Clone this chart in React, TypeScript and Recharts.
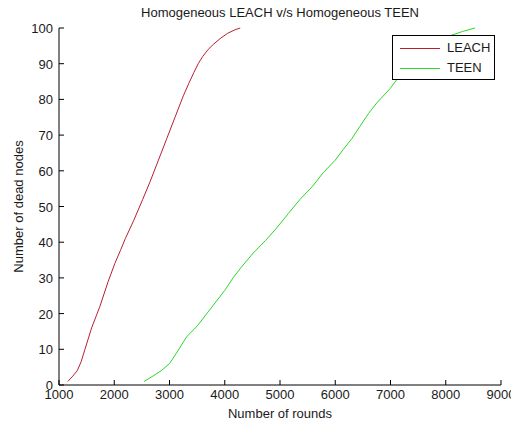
import React from 'react';
import { LineChart, Line, XAxis, YAxis, Legend } from 'recharts';

const leachRounds = [1160, 1250, 1330, 1400, 1470, 1590, 1740, 1890, 2010, 2120, 2200, 2350, 2515, 2650, 2800, 2950, 3100, 3250, 3350, 3440, 3520, 3600, 3700, 3800, 3914, 4050, 4185, 4280];
const leachDead = [1, 2.5, 4, 6.5, 10, 16, 22, 29, 34, 38, 41, 46, 52, 57, 63, 69, 75, 81, 84.5, 87.5, 90, 92, 94, 95.5, 97, 98.5, 99.5, 100];

const teenRounds = [2540, 2700, 2850, 3000, 3150, 3310, 3500, 3750, 4000, 4150, 4300, 4517, 4740, 4940, 5150, 5362, 5580, 5784, 6000, 6146, 6300, 6448, 6600, 6750, 6991, 7112, 7300, 7500, 7750, 8000, 8108, 8300, 8530];
const teenDead = [1, 2.5, 4, 6, 9.5, 13.5, 16.5, 21.5, 26.5, 30, 33, 37, 40.5, 44, 48, 52, 55.5, 59.5, 63, 66, 69, 72.5, 76, 79, 83, 85.5, 89, 92, 95, 97, 98, 99, 100];

const xTicks = [1000, 2000, 3000, 4000, 5000, 6000, 7000, 8000, 9000];
const yTicks = [0, 10, 20, 30, 40, 50, 60, 70, 80, 90, 100];

const title = 'Homogeneous LEACH v/s Homogeneous TEEN';
const xLabel = 'Number of rounds';
const yLabel = 'Number of dead nodes';

const leachData = leachRounds.map((r, i) => ({ round: r, dead: leachDead[i] }));
const teenData = teenRounds.map((r, i) => ({ round: r, dead: teenDead[i] }));

const FONT = '"Liberation Sans", Arial, sans-serif';
const TXT = '#1a1a1a';
const AX = '#000';
const LEACH_COLOR = '#b82030';
const TEEN_COLOR = '#2ad82a';

const BottomTick = (p: any) => (
  <g>
    <line x1={p.x} x2={p.x} y1={p.y} y2={p.y - 5} stroke={AX} />
    <text x={p.x} y={p.y + 14} textAnchor="middle" fontSize={13} fontFamily={FONT} fill={TXT}>
      {p.payload.value}
    </text>
  </g>
);
const TopTick = (p: any) => (
  <line x1={p.x} x2={p.x} y1={p.y} y2={p.y + 5} stroke={AX} />
);
const LeftTick = (p: any) => (
  <g>
    <line x1={p.x} x2={p.x + 5} y1={p.y} y2={p.y} stroke={AX} />
    <text x={p.x - 6} y={p.y + 5} textAnchor="end" fontSize={13} fontFamily={FONT} fill={TXT}>
      {p.payload.value}
    </text>
  </g>
);
const RightTick = (p: any) => (
  <line x1={p.x} x2={p.x - 5} y1={p.y} y2={p.y} stroke={AX} />
);

const LegendBox = (props: any) => {
  const payload = props.payload || [];
  return (
    <div
      style={{
        width: 103,
        height: 45,
        border: '1px solid #000',
        background: '#fff',
        boxSizing: 'border-box',
        paddingTop: 2,
        fontFamily: FONT,
        fontSize: 13,
        color: TXT,
      }}
    >
      {payload.map((e: any) => (
        <div key={e.value} style={{ display: 'flex', alignItems: 'center', height: 20 }}>
          <svg width={54} height={20} style={{ display: 'block' }}>
            <line x1={7} x2={47} y1={10.5} y2={10.5} stroke={e.color} strokeWidth={1} />
          </svg>
          <span style={{ lineHeight: '20px' }}>{e.value}</span>
        </div>
      ))}
    </div>
  );
};

export default function App() {
  return (
    <div style={{ position: 'absolute', left: 0, top: 0, width: 511, height: 423, background: '#fff' }}>
      <div
        style={{
          position: 'absolute',
          left: 59,
          width: 442,
          top: 5,
          textAlign: 'center',
          fontFamily: FONT,
          fontSize: 13,
          color: TXT,
          lineHeight: '16px',
          zIndex: 2,
        }}
      >
        {title}
      </div>
      <LineChart width={511} height={423} margin={{ top: 28, right: 10, bottom: 0, left: 0 }}>
        <XAxis
          dataKey="round"
          type="number"
          domain={[1000, 9000]}
          ticks={xTicks}
          allowDuplicatedCategory={false}
          height={38}
          tickSize={0}
          tickMargin={0}
          tickLine={false}
          axisLine={{ stroke: AX }}
          tick={BottomTick}
          interval={0}
          label={{ value: xLabel, position: 'insideBottom', offset: 5, fontSize: 13, fontFamily: FONT, fill: TXT }}
        />
        <XAxis
          xAxisId="top"
          orientation="top"
          type="number"
          domain={[1000, 9000]}
          ticks={xTicks}
          height={0}
          tickSize={0}
          tickMargin={0}
          tickLine={false}
          axisLine={{ stroke: AX }}
          tick={TopTick}
          interval={0}
        />
        <YAxis
          type="number"
          domain={[0, 100]}
          ticks={yTicks}
          width={59}
          tickSize={0}
          tickMargin={0}
          tickLine={false}
          axisLine={{ stroke: AX }}
          tick={LeftTick}
          interval={0}
          label={{
            value: yLabel,
            angle: -90,
            position: 'insideLeft',
            offset: 18,
            fontSize: 13,
            fontFamily: FONT,
            fill: TXT,
            style: { textAnchor: 'middle' },
          }}
        />
        <YAxis
          yAxisId="right"
          orientation="right"
          type="number"
          domain={[0, 100]}
          ticks={yTicks}
          width={0}
          tickSize={0}
          tickMargin={0}
          tickLine={false}
          axisLine={{ stroke: AX }}
          tick={RightTick}
          interval={0}
        />
        <Legend
          layout="vertical"
          align="center"
          verticalAlign="middle"
          content={LegendBox}
          wrapperStyle={{ position: 'absolute', left: 392, top: 35, width: 103, height: 45 }}
        />
        <Line
          data={leachData}
          dataKey="dead"
          name="LEACH"
          type="linear"
          stroke={LEACH_COLOR}
          strokeWidth={1}
          dot={false}
          isAnimationActive={false}
        />
        <Line
          data={teenData}
          dataKey="dead"
          name="TEEN"
          type="linear"
          stroke={TEEN_COLOR}
          strokeWidth={1}
          dot={false}
          isAnimationActive={false}
        />
      </LineChart>
    </div>
  );
}
